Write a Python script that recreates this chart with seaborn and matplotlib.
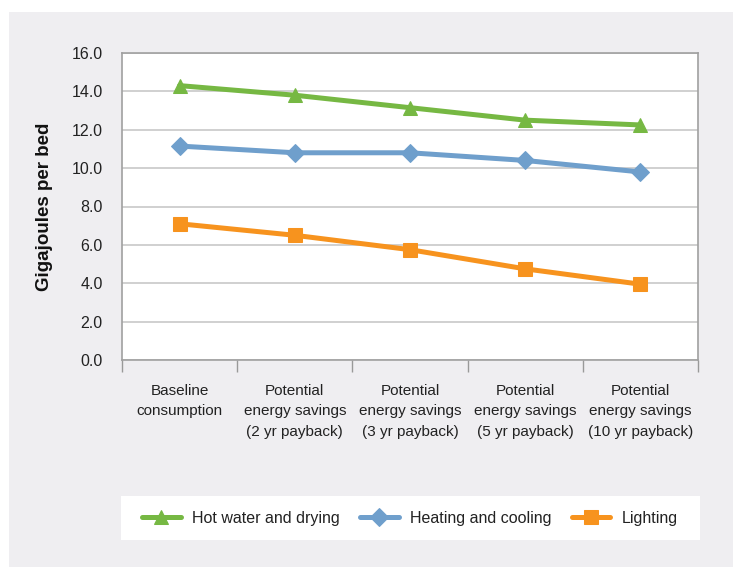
import matplotlib

matplotlib.use("Agg")
import matplotlib.pyplot as plt
import matplotlib.patches as mpatches
import numpy as np
import pandas as pd
import seaborn as sns

categories = [
    "Baseline\nconsumption",
    "Potential\nenergy savings\n(2 yr payback)",
    "Potential\nenergy savings\n(3 yr payback)",
    "Potential\nenergy savings\n(5 yr payback)",
    "Potential\nenergy savings\n(10 yr payback)",
]
hot_water = [14.3, 13.8, 13.15, 12.5, 12.25]
heating = [11.15, 10.8, 10.8, 10.4, 9.8]
lighting = [7.1, 6.5, 5.75, 4.75, 3.95]

series = [
    ("Hot water and drying", hot_water, "#76b843", "^"),
    ("Heating and cooling", heating, "#6f9fcc", "D"),
    ("Lighting", lighting, "#f7931e", "s"),
]

sns.set_style("white")
plt.rcParams["font.family"] = ["Liberation Sans", "DejaVu Sans"]

fig = plt.figure(figsize=(7.33, 5.67), dpi=100, facecolor="white")
# grey panel behind the chart
fig.patches.append(mpatches.Rectangle((9 / 733, 0), 1, 1 - 12 / 567,
                                      transform=fig.transFigure,
                                      facecolor="#efeef1", edgecolor="none", zorder=-10))
# white legend box
fig.patches.append(mpatches.Rectangle((121 / 733, 1 - 540 / 567), 579 / 733, 44 / 567,
                                      transform=fig.transFigure,
                                      facecolor="white", edgecolor="none", zorder=-5))

ax = fig.add_axes([122 / 733, 1 - 360 / 567, 576 / 733, 307 / 567])
ax.set_facecolor("white")

for name, vals, color, mk in series:
    df = pd.DataFrame({"cat": categories, "val": vals})
    ms = 10.5 if mk != "D" else 9
    sns.lineplot(data=df, x="cat", y="val", ax=ax, color=color, marker=mk,
                 markersize=ms, markeredgecolor=color, linewidth=3.6,
                 label=name, sort=False)

ax.set_xlim(-0.5, len(categories) - 0.5)
ax.set_ylim(0, 16)
ax.set_yticks(np.arange(0, 16.1, 2))
ax.set_yticklabels([f"{v:.1f}" for v in np.arange(0, 16.1, 2)])
ax.grid(True, axis="y", color="#c4c4c4", linewidth=1.1)
ax.set_axisbelow(True)

ax.set_xticks(range(len(categories)))
ax.set_xticklabels(categories, linespacing=1.6)
ax.set_xticks(np.arange(-0.5, len(categories), 1), minor=True)
ax.tick_params(axis="x", which="major", length=0, pad=17, labelsize=11, colors="#222222")
ax.tick_params(axis="x", which="minor", bottom=True, length=8.5, width=1,
               color="#999999", direction="out")
ax.tick_params(axis="y", length=8, width=1, color="#999999", direction="out",
               labelsize=11.5, labelcolor="#222222", pad=6)

for sp in ax.spines.values():
    sp.set_visible(True)
    sp.set_color("#a0a0a0")
    sp.set_linewidth(1.2)

ax.set_xlabel("")
ax.set_ylabel("Gigajoules per bed", fontsize=13.5, fontweight="bold",
              color="#111111", labelpad=13)

handles, labels = ax.get_legend_handles_labels()
ax.legend_.remove()
fig.legend(handles, labels, loc="center", bbox_to_anchor=(410 / 733, 1 - 518 / 567),
           ncol=3, frameon=False, fontsize=11.5, handlelength=2.4, columnspacing=1.3,
           handletextpad=0.7, labelcolor="#222222")

fig.savefig("out.png", dpi=100, facecolor="white")
